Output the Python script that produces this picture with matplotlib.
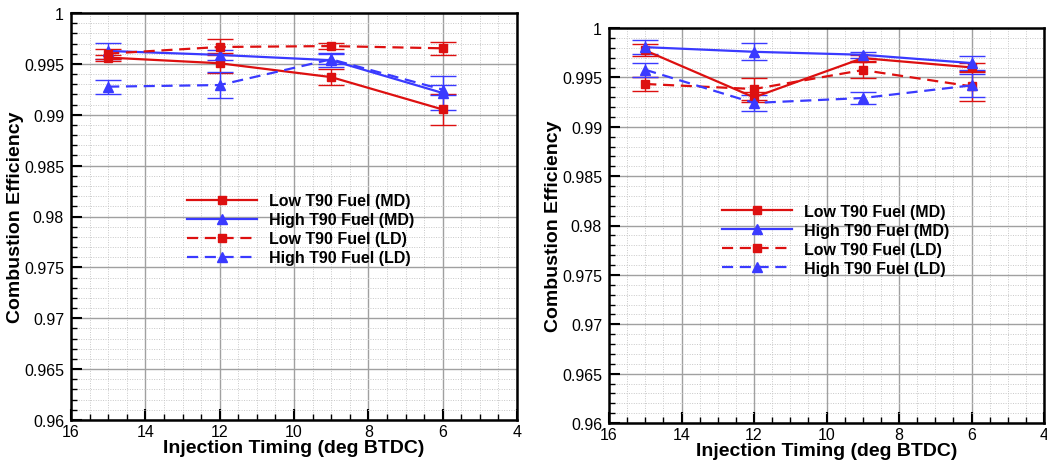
import matplotlib
matplotlib.use("Agg")
import matplotlib.pyplot as plt
from matplotlib.ticker import MultipleLocator, FuncFormatter

plt.rcParams['font.family'] = ['Liberation Sans', 'DejaVu Sans']

# Injection timing (deg BTDC)
timing = [15, 12, 9, 6]

series_labels = ["Low T90 Fuel (MD)", "High T90 Fuel (MD)",
                 "Low T90 Fuel (LD)", "High T90 Fuel (LD)"]

# Left panel: combustion efficiency and error half-widths
left_low_md = [0.99562, 0.99506, 0.99370, 0.99052]
left_low_md_err = [0.0003, 0.0010, 0.0008, 0.0015]
left_high_md = [0.99627, 0.99588, 0.99536, 0.99214]
left_high_md_err = [0.0008, 0.0005, 0.0007, 0.0017]
left_low_ld = [0.99601, 0.99666, 0.99675, 0.99653]
left_low_ld_err = [0.0005, 0.0008, 0.0003, 0.00065]
left_high_ld = [0.99276, 0.99292, 0.99545, 0.99247]
left_high_ld_err = [0.0007, 0.0013, 0.0005, 0.0005]

# Right panel: combustion efficiency and error half-widths
right_low_md = [0.99773, 0.99298, 0.99695, 0.99601]
right_low_md_err = [0.0006, 0.0005, 0.0003, 0.0004]
right_high_md = [0.99806, 0.99759, 0.99729, 0.99645]
right_high_md_err = [0.0007, 0.00085, 0.0003, 0.0007]
right_low_ld = [0.99433, 0.99382, 0.99574, 0.99409]
right_low_ld_err = [0.0007, 0.0011, 0.0008, 0.0015]
right_high_ld = [0.99577, 0.99241, 0.99291, 0.99419]
right_high_ld_err = [0.0007, 0.0008, 0.0006, 0.0012]

x_ticks = [16, 14, 12, 10, 8, 6, 4]
y_ticks = [0.96, 0.965, 0.97, 0.975, 0.98, 0.985, 0.99, 0.995, 1.0]

RED = '#dd1010'
BLUE = '#3a3aff'
styles = [
    dict(color=RED, marker='s', ls='-', ms=5.5),
    dict(color=BLUE, marker='^', ls='-', ms=6.5),
    dict(color=RED, marker='s', ls=(0, (5, 3)), ms=5.5),
    dict(color=BLUE, marker='^', ls=(0, (5, 3)), ms=6.5),
]

fig = plt.figure(figsize=(10.47, 4.64), dpi=100)
W, H = 1047, 464


def make_axes(x0, x1, ytop, ybot):
    return fig.add_axes([x0 / W, (H - ybot) / H, (x1 - x0) / W, (ybot - ytop) / H])


def draw_panel(ax, data, legend_anchor):
    handles = []
    for (vals, errs), st, lab in zip(data, styles, series_labels):
        h = ax.errorbar(timing, vals, yerr=errs, color=st['color'],
                        marker=st['marker'], ms=st['ms'], ls=st['ls'], lw=1.6,
                        elinewidth=1.0, capsize=9.5, capthick=1.0,
                        ecolor=st['color'], label=lab, zorder=3)
        handles.append(h[0])
    ax.set_xlim(16, 4)
    ax.set_ylim(0.96, 1.0)
    ax.set_xticks(x_ticks)
    ax.set_yticks(y_ticks)
    ax.xaxis.set_minor_locator(MultipleLocator(0.5))
    ax.yaxis.set_minor_locator(MultipleLocator(0.001))
    ax.yaxis.set_major_formatter(FuncFormatter(lambda v, p: '%g' % round(v, 4)))
    ax.grid(which='major', color='#a0a0a0', lw=1.0, ls='-', zorder=0)
    ax.grid(which='minor', color='#c8c8c8', lw=0.7, ls=(0, (1, 1.5)), zorder=0)
    ax.set_axisbelow(True)
    ax.tick_params(which='major', direction='in', length=8, width=1.5,
                   labelsize=11.5, pad=3, top=False, right=False)
    ax.tick_params(axis='y', which='major', pad=5)
    ax.tick_params(which='minor', direction='in', length=4, width=1.0,
                   top=False, right=False)
    for sp in ax.spines.values():
        sp.set_linewidth(1.8)
    ax.set_xlabel('Injection Timing (deg BTDC)', fontsize=14, fontweight='bold',
                  labelpad=0)
    ax.set_ylabel('Combustion Efficiency', fontsize=14, fontweight='bold',
                  labelpad=0)
    ax.legend(handles, series_labels, loc='upper left',
              bbox_to_anchor=legend_anchor, frameon=False,
              prop=dict(weight='bold', size=11.5), handlelength=4.4,
              handletextpad=0.75, labelspacing=0.25, borderpad=0,
              borderaxespad=0, numpoints=1)


ax1 = make_axes(71, 517, 14, 421)
ax2 = make_axes(609, 1044, 29, 424)

draw_panel(ax1, [(left_low_md, left_low_md_err), (left_high_md, left_high_md_err),
                 (left_low_ld, left_low_ld_err), (left_high_ld, left_high_ld_err)],
           (0.26, 0.557))
draw_panel(ax2, [(right_low_md, right_low_md_err), (right_high_md, right_high_md_err),
                 (right_low_ld, right_low_ld_err), (right_high_ld, right_high_ld_err)],
           (0.26, 0.555))

fig.savefig('out.png', dpi=100)
